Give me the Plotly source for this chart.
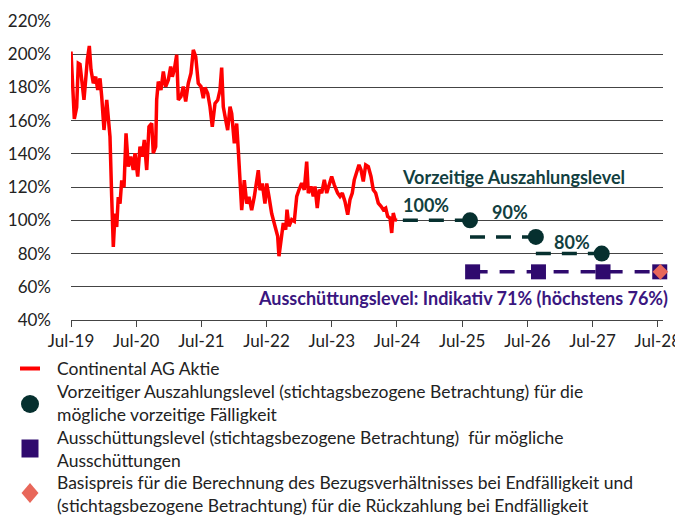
import plotly.graph_objects as go

# ---------------- data ----------------
# Continental AG share price, % of reference level, decimal-year time axis
price_t = [2019.500, 2019.520, 2019.551, 2019.587, 2019.612, 2019.638, 2019.664, 2019.699, 2019.725,
           2019.750, 2019.781, 2019.807, 2019.842, 2019.879, 2019.910, 2019.945, 2019.971, 2020.006,
           2020.048, 2020.072, 2020.098, 2020.124, 2020.149, 2020.175, 2020.201, 2020.225, 2020.252,
           2020.278, 2020.313, 2020.344, 2020.379, 2020.416, 2020.455, 2020.482, 2020.523, 2020.558,
           2020.594, 2020.624, 2020.661, 2020.696, 2020.738, 2020.762, 2020.799, 2020.814, 2020.839,
           2020.880, 2020.916, 2020.952, 2020.992, 2021.029, 2021.054, 2021.084, 2021.121, 2021.146,
           2021.187, 2021.222, 2021.259, 2021.299, 2021.340, 2021.376, 2021.413, 2021.452, 2021.494,
           2021.529, 2021.555, 2021.597, 2021.632, 2021.667, 2021.709, 2021.750, 2021.785, 2021.811,
           2021.836, 2021.873, 2021.903, 2021.939, 2021.965, 2022.005, 2022.041, 2022.066, 2022.092,
           2022.118, 2022.158, 2022.195, 2022.230, 2022.271, 2022.311, 2022.348, 2022.373, 2022.399,
           2022.434, 2022.475, 2022.502, 2022.537, 2022.578, 2022.618, 2022.670, 2022.690, 2022.721,
           2022.756, 2022.793, 2022.813, 2022.844, 2022.885, 2022.925, 2022.962, 2022.997, 2023.038,
           2023.078, 2023.115, 2023.140, 2023.181, 2023.216, 2023.242, 2023.277, 2023.308, 2023.345,
           2023.385, 2023.422, 2023.457, 2023.498, 2023.538, 2023.590, 2023.626, 2023.661, 2023.702,
           2023.744, 2023.779, 2023.814, 2023.845, 2023.882, 2023.917, 2023.948, 2023.983, 2024.020,
           2024.060, 2024.101, 2024.136, 2024.173, 2024.213, 2024.255, 2024.290, 2024.327, 2024.357,
           2024.393, 2024.419, 2024.443, 2024.469, 2024.500]
price_v = [201.6, 184.5, 161.0, 168.0, 194.6, 194.0, 182.5, 172.5, 184.5,
           196.6, 205.0, 190.6, 182.5, 186.5, 178.5, 185.5, 174.5, 154.4,
           172.5, 162.4, 150.4, 114.3, 84.0, 104.0, 96.0, 114.0, 110.0,
           124.0, 120.0, 152.4, 132.3, 138.4, 130.3, 140.4, 126.3, 144.4,
           138.4, 148.4, 130.3, 156.4, 158.4, 140.4, 144.4, 172.5, 183.5,
           178.5, 189.6, 180.5, 184.5, 192.6, 186.5, 190.6, 199.6, 172.5,
           174.5, 180.5, 171.5, 182.5, 188.6, 202.6, 198.6, 182.5, 180.5,
           173.5, 180.0, 176.4, 168.4, 156.3, 170.4, 172.4, 178.4, 192.0,
           168.4, 160.3, 154.3, 168.4, 164.3, 146.3, 158.3, 142.2, 120.2,
           106.1, 124.2, 110.1, 114.1, 106.1, 114.1, 126.2, 130.2, 118.2,
           122.2, 110.1, 122.2, 114.1, 104.1, 98.1, 90.4, 78.4, 86.4,
           98.4, 94.4, 106.4, 96.4, 100.4, 99.4, 114.4, 118.4, 122.4,
           118.4, 135.4, 116.4, 120.4, 114.4, 120.4, 107.4, 118.4, 116.4,
           124.4, 116.4, 120.4, 126.4, 121.4, 116.4, 114.4, 116.4, 111.4,
           103.4, 112.4, 116.4, 124.4, 128.4, 133.4, 130.4, 123.4, 133.4,
           132.4, 126.4, 118.4, 116.4, 110.4, 108.4, 106.4, 107.4, 102.4,
           101.4, 92.4, 104.4, 100.4, 100.0]

# early redemption (autocall) levels
early_start_t = 2024.59
early_start_v = 100
early_t = [2025.62, 2026.63, 2027.64]
early_v = [100, 90, 80]

# distribution (coupon) levels
dist_t = [2025.66, 2026.67, 2027.66, 2028.53]
dist_v = [69, 69, 69, 69]

# strike at maturity
strike_t = [2028.54]
strike_v = [69]

tick_vals = [2019.5, 2020.5, 2021.5, 2022.5, 2023.5, 2024.5, 2025.5, 2026.5, 2027.5, 2028.5]
tick_text = ["Jul-19", "Jul-20", "Jul-21", "Jul-22", "Jul-23", "Jul-24", "Jul-25", "Jul-26", "Jul-27", "Jul-28"]
y_ticks = [40, 60, 80, 100, 120, 140, 160, 180, 200, 220]
y_tick_text = ["40%", "60%", "80%", "100%", "120%", "140%", "160%", "180%", "200%", "220%"]

legend_names = [
    "Continental AG Aktie",
    "Vorzeitiger Auszahlungslevel (stichtagsbezogene Betrachtung) für die<br>mögliche vorzeitige Fälligkeit",
    "Ausschüttungslevel (stichtagsbezogene Betrachtung)  für mögliche<br>Ausschüttungen",
    "Basispreis für die Berechnung des Bezugsverhältnisses bei Endfälligkeit und<br>(stichtagsbezogene Betrachtung) für die Rückzahlung bei Endfälligkeit",
]

label_early = "Vorzeitige Auszahlungslevel"
label_dist = "Ausschüttungslevel: Indikativ 71% (höchstens 76%)"

# ---------------- styling ----------------
RED = "#ff0000"
TEAL = "#06302f"
TEAL_TXT = "#123f3f"
PURPLE = "#2f0a6e"
PURPLE_TXT = "#3a1680"
SALMON = "#e8675a"
FONT = "Lato"
TXT = "#222222"

fig = go.Figure()

# price line
fig.add_trace(go.Scatter(x=price_t, y=price_v, mode="lines",
                         line=dict(color=RED, width=3.5), showlegend=False, hoverinfo="skip"))

# early redemption step segments (dashed)
seg_x, seg_y = [], []
prev_t = early_start_t
for t, v in zip(early_t, early_v):
    seg_x += [prev_t, t, None]
    seg_y += [v, v, None]
    prev_t = t
fig.add_trace(go.Scatter(x=seg_x, y=seg_y, mode="lines",
                         line=dict(color=TEAL, width=3.5, dash="15px,11px"),
                         showlegend=False, hoverinfo="skip"))
fig.add_trace(go.Scatter(x=early_t, y=early_v, mode="markers",
                         marker=dict(color=TEAL, size=16, symbol="circle"),
                         showlegend=False, cliponaxis=False))

# distribution level line + squares
fig.add_trace(go.Scatter(x=dist_t + strike_t, y=dist_v + strike_v, mode="lines",
                         line=dict(color=PURPLE, width=3.5, dash="15px,12px"),
                         showlegend=False, hoverinfo="skip"))
fig.add_trace(go.Scatter(x=dist_t, y=dist_v, mode="markers",
                         marker=dict(color=PURPLE, size=15, symbol="square"),
                         showlegend=False, cliponaxis=False))
fig.add_trace(go.Scatter(x=strike_t, y=strike_v, mode="markers",
                         marker=dict(color=SALMON, size=12, symbol="diamond"),
                         showlegend=False, cliponaxis=False))

# in-chart annotations
ann = [
    dict(x=2026.29, y=126.3, text=label_early, color=TEAL_TXT),
    dict(x=2025.52, y=53.2, text=label_dist, color=PURPLE_TXT),
    dict(x=2024.94, y=109.2, text=f"{early_v[0]}%", color=TEAL_TXT),
    dict(x=2026.23, y=105.2, text=f"{early_v[1]}%", color=TEAL_TXT),
    dict(x=2027.18, y=87.1, text=f"{early_v[2]}%", color=TEAL_TXT),
]
for a in ann:
    fig.add_annotation(x=a["x"], y=a["y"], xref="x", yref="y", text=f"<b>{a['text']}</b>",
                       showarrow=False, font=dict(family=FONT, size=18, color=a["color"]))

# ---------------- custom legend below the plot ----------------
W, H = 675, 509
ML, MR, MT, MB = 63, 20, 13, 197
pw, ph = W - ML - MR, H - MT - MB


def px_to_paper_x(px):
    return (px - ML) / pw


def px_to_paper_y(py):
    return (H - MB - py) / ph


leg_sym_x = px_to_paper_x(22)
leg_txt_x = px_to_paper_x(48)
leg_rows_y = [360.5, 395, 440.5, 486]
leg_colors = [RED, TEAL, PURPLE, SALMON]

for name, ry in zip(legend_names, leg_rows_y):
    fig.add_annotation(x=leg_txt_x, y=px_to_paper_y(ry), xref="paper", yref="paper",
                       xanchor="left", yanchor="middle", align="left", showarrow=False,
                       borderpad=0, text=name, font=dict(family=FONT, size=17.5, color=TXT))

sym_common = dict(xref="paper", yref="paper", xsizemode="pixel", ysizemode="pixel",
                  xanchor=leg_sym_x)
# red line
fig.add_shape(type="line", yanchor=px_to_paper_y(leg_rows_y[0]), x0=-10, x1=10, y0=0, y1=0,
              line=dict(color=leg_colors[0], width=4), **sym_common)
# circle
fig.add_shape(type="circle", yanchor=px_to_paper_y(leg_rows_y[1] + 1), x0=-9, x1=9, y0=-9, y1=9,
              fillcolor=leg_colors[1], line=dict(width=0), **sym_common)
# square
fig.add_shape(type="rect", yanchor=px_to_paper_y(leg_rows_y[2]), x0=-8.5, x1=8.5, y0=-9, y1=9,
              fillcolor=leg_colors[2], line=dict(width=0), **sym_common)
# diamond
fig.add_shape(type="path", yanchor=px_to_paper_y(leg_rows_y[3] - 1), path="M0,10 L8.5,0 L0,-10 L-8.5,0 Z",
              fillcolor=leg_colors[3], line=dict(width=0), **sym_common)

fig.update_layout(
    width=W, height=H,
    margin=dict(l=ML, r=MR, t=MT, b=MB, autoexpand=False),
    plot_bgcolor="white", paper_bgcolor="white",
    font=dict(family=FONT, size=16, color=TXT),
    showlegend=False,
    xaxis=dict(range=[2019.5, 2028.58], tickvals=tick_vals, ticktext=tick_text,
               showgrid=False, zeroline=False, showline=True, linecolor="#444444", linewidth=1,
               ticks="outside", ticklen=6, tickcolor="#444444",
               tickfont=dict(family=FONT, size=17, color=TXT)),
    yaxis=dict(range=[40, 220], tickvals=y_ticks, ticktext=y_tick_text,
               showgrid=True, gridcolor="#444444", gridwidth=1, zeroline=False,
               showline=False, ticks="", ticklabelstandoff=19,
               tickfont=dict(family=FONT, size=17, color=TXT)),
)

fig.write_html("out.html")
